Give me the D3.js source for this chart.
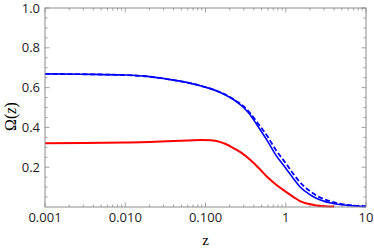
<!DOCTYPE html>
<html>
<head>
<meta charset="utf-8">
<script src="https://cdn.jsdelivr.net/npm/d3@7"></script>
<style>
  body { margin: 0; background: #fff; }
  svg { display: block; }
  .tick-label { font-family: "Open Sans", sans-serif; font-size: 13px; fill: #222; }
</style>
</head>
<body>
<div id="chart"></div>
<script>
// values
const zBlue = [0.001, 0.003, 0.01, 0.02, 0.033, 0.06, 0.1, 0.16, 0.225, 0.3, 0.36, 0.45, 0.58, 0.75, 1, 1.25, 1.5, 2, 2.4, 3.1, 3.9, 5, 6.4, 8, 10];
const blueSolid = [0.669, 0.667, 0.663, 0.655, 0.643, 0.625, 0.602, 0.572, 0.539, 0.499, 0.463, 0.405, 0.337, 0.262, 0.195, 0.142, 0.102, 0.062, 0.044, 0.027, 0.018, 0.011, 0.007, 0.004, 0.003];
const blueDashed = [0.669, 0.667, 0.663, 0.655, 0.643, 0.625, 0.602, 0.573, 0.541, 0.505, 0.472, 0.420, 0.360, 0.288, 0.220, 0.165, 0.125, 0.080, 0.058, 0.037, 0.025, 0.015, 0.009, 0.005, 0.003];
const zRed = [0.001, 0.003, 0.01, 0.02, 0.033, 0.06, 0.09, 0.115, 0.137, 0.175, 0.225, 0.29, 0.36, 0.46, 0.58, 0.76, 1, 1.25, 1.5, 1.9, 2.4, 3.1, 4.0];
const redLine = [0.320, 0.321, 0.324, 0.327, 0.330, 0.334, 0.337, 0.336, 0.332, 0.318, 0.295, 0.268, 0.237, 0.196, 0.153, 0.112, 0.077, 0.050, 0.030, 0.016, 0.008, 0.004, 0.002];
const xTickVals = [0.001, 0.01, 0.1, 1, 10];
const xTickText = ["0.001", "0.010", "0.100", "1", "10"];
const yTickVals = [0.2, 0.4, 0.6, 0.8, 1.0];

const W = 374, H = 250;
const margin = { top: 8, right: 8, bottom: 43, left: 45 };
const w = W - margin.left - margin.right;
const h = H - margin.top - margin.bottom;

const svg = d3.select("#chart").append("svg")
  .attr("width", W).attr("height", H);
const g = svg.append("g").attr("transform", `translate(${margin.left},${margin.top})`);

const x = d3.scaleLog().domain([0.001, 10]).range([0, w]);
const y = d3.scaleLinear().domain([0, 1]).range([h, 0]);

const frameColor = "#8c8c8c";

// minor + major ticks, all four sides, pointing inward
const xMinor = [];
for (let e = -3; e < 1; e++) for (let k = 2; k <= 9; k++) xMinor.push(k * Math.pow(10, e));
const yMinor = d3.range(0.05, 1.0, 0.05).filter(v => !yTickVals.some(t => Math.abs(t - v) < 1e-6));

const ticks = g.append("g").attr("stroke", frameColor).attr("stroke-width", 0.8);
function xTicks(vals, len) {
  ticks.selectAll(null).data(vals).join("line")
    .attr("x1", d => x(d)).attr("x2", d => x(d)).attr("y1", h).attr("y2", h - len);
  ticks.selectAll(null).data(vals).join("line")
    .attr("x1", d => x(d)).attr("x2", d => x(d)).attr("y1", 0).attr("y2", len);
}
function yTicks(vals, len) {
  ticks.selectAll(null).data(vals).join("line")
    .attr("y1", d => y(d)).attr("y2", d => y(d)).attr("x1", 0).attr("x2", len);
  ticks.selectAll(null).data(vals).join("line")
    .attr("y1", d => y(d)).attr("y2", d => y(d)).attr("x1", w).attr("x2", w - len);
}
xTicks(xTickVals, 4.5);
xTicks(xMinor, 2.5);
yTicks(yTickVals, 4.5);
yTicks(yMinor, 2.5);

// curves
const line = (zs) => d3.line()
  .x((d, i) => x(zs[i]))
  .y(d => y(d))
  .curve(d3.curveMonotoneX);

g.append("path").datum(redLine)
  .attr("d", line(zRed))
  .attr("fill", "none").attr("stroke", "#f00").attr("stroke-width", 2);

g.append("path").datum(blueDashed)
  .attr("d", line(zBlue))
  .attr("fill", "none").attr("stroke", "#00f").attr("stroke-width", 1.8)
  .attr("stroke-dasharray", "5,2.5");

g.append("path").datum(blueSolid)
  .attr("d", line(zBlue))
  .attr("fill", "none").attr("stroke", "#00f").attr("stroke-width", 1.6);

// frame
g.append("rect").attr("width", w).attr("height", h)
  .attr("fill", "none").attr("stroke", frameColor).attr("stroke-width", 1);

// tick labels
g.append("g").selectAll("text").data(xTickVals).join("text")
  .attr("class", "tick-label")
  .attr("x", d => x(d)).attr("y", h + 15)
  .attr("text-anchor", "middle")
  .text((d, i) => xTickText[i]);

g.append("g").selectAll("text").data(yTickVals).join("text")
  .attr("class", "tick-label")
  .attr("x", -5).attr("y", d => y(d)).attr("dy", "0.35em")
  .attr("text-anchor", "end")
  .text(d => d.toFixed(1));

// axis labels
svg.append("text")
  .attr("x", margin.left + w / 2).attr("y", 245)
  .attr("text-anchor", "middle")
  .style("font-family", "'Liberation Serif', serif").style("font-size", "15px")
  .text("z");

svg.append("text")
  .attr("transform", `translate(16,${margin.top + h / 2 + 9}) rotate(-90)`)
  .attr("text-anchor", "middle")
  .style("font-family", "'Liberation Serif', serif").style("font-size", "16px")
  .html('Ω(<tspan font-style="italic">z</tspan>)');
</script>
</body>
</html>
